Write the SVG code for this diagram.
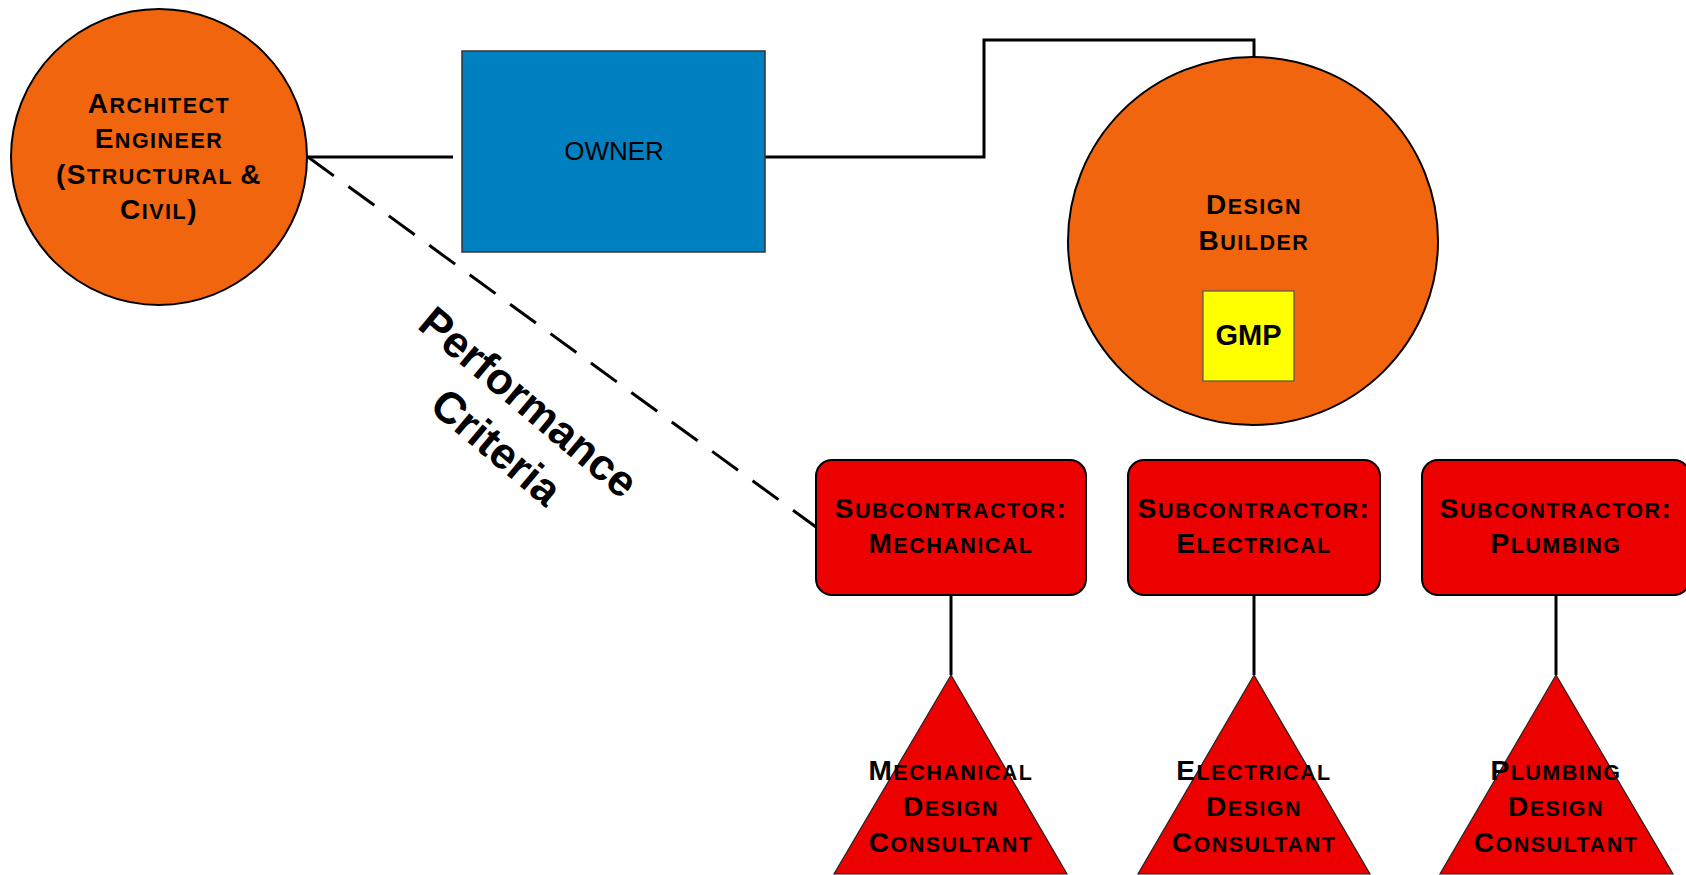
<svg xmlns="http://www.w3.org/2000/svg" width="1686" height="875" viewBox="0 0 1686 875">
<style>
text{font-family:"Liberation Sans",Arial,sans-serif;fill:#000}
.sc{font-weight:bold;font-size:21.5px;letter-spacing:1.5px;text-anchor:middle}
.b{font-size:28px}
.orange{fill:#F0650E;stroke:#000;stroke-width:2}
.sub{fill:#EC0000;stroke:#000;stroke-width:2}
.tri{fill:#EC0000;stroke:#222;stroke-width:1.2}
.conn{fill:none;stroke:#000;stroke-width:3}
</style>
<rect width="1686" height="875" fill="#fff"/>
<g id="connectors">
<line class="conn" x1="308" y1="157" x2="453" y2="157"/>
<polyline class="conn" points="765,157 984,157 984,40 1254,40 1254,57"/>
<line class="conn" x1="308" y1="157" x2="816" y2="527" stroke-dasharray="32 18"/>
<line class="conn" x1="951" y1="595" x2="951" y2="675"/>
<line class="conn" x1="1254" y1="595" x2="1254" y2="675"/>
<line class="conn" x1="1556" y1="595" x2="1556" y2="675"/>
</g>
<g id="architect">
<circle class="orange" cx="159" cy="157" r="148"/>
<text class="sc" x="159" y="113"><tspan class="b">A</tspan>RCHITECT</text>
<text class="sc" x="159" y="148"><tspan class="b">E</tspan>NGINEER</text>
<text class="sc" x="159" y="184"><tspan class="b">(S</tspan>TRUCTURAL <tspan class="b">&amp;</tspan></text>
<text class="sc" x="159" y="219"><tspan class="b">C</tspan>IVIL<tspan class="b">)</tspan></text>
</g>
<g id="owner">
<rect x="462" y="51" width="303" height="201" fill="#0080C0" stroke="#333" stroke-width="1.5"/>
<text x="614" y="160" font-size="26" text-anchor="middle">OWNER</text>
</g>
<g id="design-builder">
<ellipse class="orange" cx="1253" cy="241" rx="185" ry="184"/>
<text class="sc" x="1254" y="214"><tspan class="b">D</tspan>ESIGN</text>
<text class="sc" x="1254" y="250"><tspan class="b">B</tspan>UILDER</text>
</g>
<g id="gmp">
<rect x="1203" y="291" width="91" height="90" fill="#FFFF00" stroke="#555" stroke-width="1.2"/>
<text x="1248.5" y="345" font-size="29" font-weight="bold" text-anchor="middle">GMP</text>
</g>
<g id="performance-label">
<g transform="translate(528,403) rotate(40)">
<text x="0" y="14" font-size="44" font-weight="bold" text-anchor="middle">Performance</text>
<text x="4" y="69" font-size="44" font-weight="bold" text-anchor="middle">Criteria</text>
</g>
</g>
<g id="sub-mechanical">
<rect class="sub" x="816" y="460" width="270" height="135" rx="16"/>
<text class="sc" x="951" y="518"><tspan class="b">S</tspan>UBCONTRACTOR<tspan class="b">:</tspan></text>
<text class="sc" x="951" y="553"><tspan class="b">M</tspan>ECHANICAL</text>
</g>
<g id="sub-electrical">
<rect class="sub" x="1128" y="460" width="252" height="135" rx="16"/>
<text class="sc" x="1254" y="518"><tspan class="b">S</tspan>UBCONTRACTOR<tspan class="b">:</tspan></text>
<text class="sc" x="1254" y="553"><tspan class="b">E</tspan>LECTRICAL</text>
</g>
<g id="sub-plumbing">
<rect class="sub" x="1422" y="460" width="268" height="135" rx="16"/>
<text class="sc" x="1556" y="518"><tspan class="b">S</tspan>UBCONTRACTOR<tspan class="b">:</tspan></text>
<text class="sc" x="1556" y="553"><tspan class="b">P</tspan>LUMBING</text>
</g>
<g id="consultant-mechanical">
<polygon class="tri" points="951,675 834,874 1067,874"/>
<text class="sc" x="951" y="780"><tspan class="b">M</tspan>ECHANICAL</text>
<text class="sc" x="951" y="816"><tspan class="b">D</tspan>ESIGN</text>
<text class="sc" x="951" y="852"><tspan class="b">C</tspan>ONSULTANT</text>
</g>
<g id="consultant-electrical">
<polygon class="tri" points="1254,675 1138,874 1370,874"/>
<text class="sc" x="1254" y="780"><tspan class="b">E</tspan>LECTRICAL</text>
<text class="sc" x="1254" y="816"><tspan class="b">D</tspan>ESIGN</text>
<text class="sc" x="1254" y="852"><tspan class="b">C</tspan>ONSULTANT</text>
</g>
<g id="consultant-plumbing">
<polygon class="tri" points="1556,675 1440,874 1673,874"/>
<text class="sc" x="1556" y="780"><tspan class="b">P</tspan>LUMBING</text>
<text class="sc" x="1556" y="816"><tspan class="b">D</tspan>ESIGN</text>
<text class="sc" x="1556" y="852"><tspan class="b">C</tspan>ONSULTANT</text>
</g>
</svg>
